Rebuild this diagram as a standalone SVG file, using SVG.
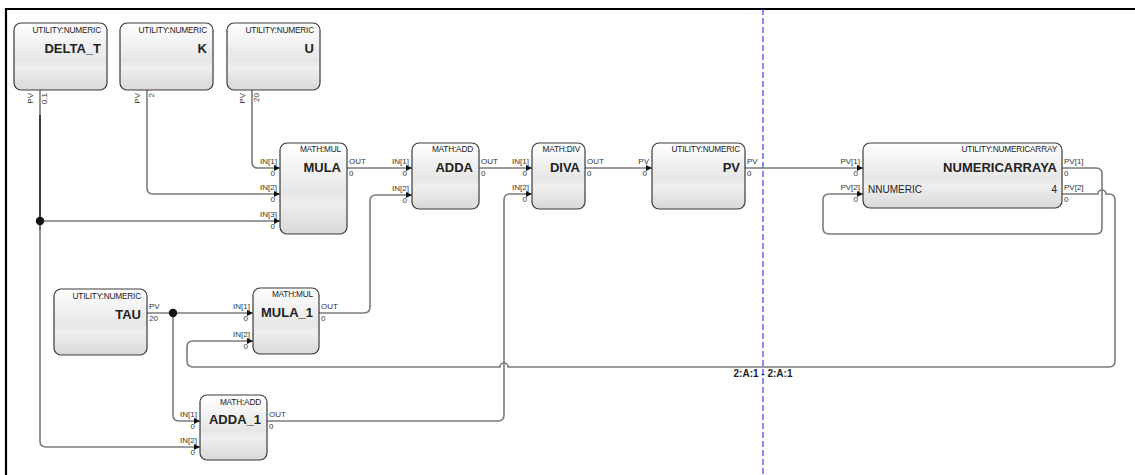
<svg xmlns="http://www.w3.org/2000/svg" width="1135" height="475" viewBox="0 0 1135 475">
<style>
text{font-family:"Liberation Sans",Arial,sans-serif;fill:#222}
.box{fill:url(#g);stroke:#3a3a3a;stroke-width:1.2}
.ttl{font-size:8.3px;text-anchor:end;letter-spacing:-0.2px}
.nm{font-size:13px;font-weight:bold;text-anchor:end}
.pl{font-size:8px;fill:#333}
.pe{text-anchor:end}
.c{fill:none;stroke:#7b7b7b;stroke-width:1.6}
.ca{marker-end:url(#ar)}
.dk{fill:none;stroke:#2a2a2a;stroke-width:1.6}
.dot{fill:#111}
</style>
<defs>
<linearGradient id="g" x1="0" y1="0" x2="0" y2="1">
<stop offset="0" stop-color="#ffffff"/>
<stop offset="0.55" stop-color="#e6e6e6"/>
<stop offset="0.66" stop-color="#efefef"/>
<stop offset="1" stop-color="#d8d8d8"/>
</linearGradient>
<marker id="ar" markerUnits="userSpaceOnUse" markerWidth="7" markerHeight="7" refX="6" refY="3" orient="auto">
<path d="M0,0 L6,3 L0,6 z" fill="#111"/>
</marker>
</defs>
<rect width="1135" height="475" fill="#fff"/>
<path d="M5,9 H1135 M6,8 V475" stroke="#000" stroke-width="2.2" fill="none"/>
<path d="M763,9 V475" stroke="#3a3aff" stroke-width="1.2" stroke-dasharray="6,3" fill="none"/>

<g id="connectors">
<path class="c ca" d="M40,90 V221 H280"/>
<path class="dk" d="M40,115 V230"/>
<path class="c ca" d="M40,221 V441 Q40,447 46,447 H200"/>
<path class="c ca" d="M147,90 V188 Q147,194 153,194 H280"/>
<path class="c ca" d="M252,90 V162 Q252,168 258,168 H280"/>
<path class="c ca" d="M347,168 H412"/>
<path class="c ca" d="M479,168 H532"/>
<path class="c ca" d="M585,168 H652"/>
<path class="c ca" d="M745,168 H863"/>
<path class="c ca" d="M1062,168 H1096 Q1102,168 1102,174 V228 Q1102,234 1096,234 H829 Q823,234 823,228 V200 Q823,194 829,194 H863"/>
<path class="c ca" d="M1062,194 H1098 A4,4 0 0 1 1106,194 H1109 Q1115,194 1115,200 V361 Q1115,367 1109,367 H508 A4,4 0 0 0 500,367 H193 Q187,367 187,361 V347 Q187,341 193,341 H253"/>
<path class="c ca" d="M147,313 H253"/>
<path class="c ca" d="M173,313 V415 Q173,421 179,421 H200"/>
<path class="c ca" d="M319,313 H364 Q370,313 370,307 V201 Q370,195 376,195 H412"/>
<path class="c ca" d="M267,421 H498 Q504,421 504,415 V200 Q504,194 510,194 H532"/>
<circle class="dot" cx="40" cy="221" r="4.2"/>
<circle class="dot" cx="173" cy="313" r="4.2"/>
<text x="763" y="377" text-anchor="middle" style="font-size:10px;font-weight:bold">2:A:1 - 2:A:1</text>
</g>

<g id="DELTA_T">
<rect class="box" x="14" y="23" width="93" height="67" rx="7"/>
<text class="ttl" x="101" y="33">UTILITY:NUMERIC</text>
<text class="nm" x="101" y="53">DELTA_T</text>
<text class="pl pe" transform="translate(33,93) rotate(-90)">PV</text>
<text class="pl pe" transform="translate(47,93) rotate(-90)">0.1</text>
</g>
<g id="K">
<rect class="box" x="120" y="23" width="93" height="67" rx="7"/>
<text class="ttl" x="207" y="33">UTILITY:NUMERIC</text>
<text class="nm" x="207" y="53">K</text>
<text class="pl pe" transform="translate(140,93) rotate(-90)">PV</text>
<text class="pl pe" transform="translate(154,93) rotate(-90)">2</text>
</g>
<g id="U">
<rect class="box" x="227" y="23" width="93" height="67" rx="7"/>
<text class="ttl" x="314" y="33">UTILITY:NUMERIC</text>
<text class="nm" x="314" y="53">U</text>
<text class="pl pe" transform="translate(245,93) rotate(-90)">PV</text>
<text class="pl pe" transform="translate(259,93) rotate(-90)">20</text>
</g>
<g id="MULA">
<rect class="box" x="280" y="143" width="67" height="91" rx="7"/>
<text class="ttl" x="341" y="152">MATH:MUL</text>
<text class="nm" x="341" y="172">MULA</text>
<text class="pl pe" x="277" y="164">IN[1]</text><text class="pl pe" x="275" y="176">0</text>
<text class="pl pe" x="277" y="190">IN[2]</text><text class="pl pe" x="275" y="202">0</text>
<text class="pl pe" x="277" y="217">IN[3]</text><text class="pl pe" x="275" y="229">0</text>
<text class="pl" x="349" y="164">OUT</text><text class="pl" x="349" y="176">0</text>
</g>
<g id="ADDA">
<rect class="box" x="412" y="143" width="67" height="66" rx="7"/>
<text class="ttl" x="473" y="152">MATH:ADD</text>
<text class="nm" x="473" y="172">ADDA</text>
<text class="pl pe" x="409" y="164">IN[1]</text><text class="pl pe" x="407" y="176">0</text>
<text class="pl pe" x="409" y="191">IN[2]</text><text class="pl pe" x="407" y="203">0</text>
<text class="pl" x="481" y="164">OUT</text><text class="pl" x="481" y="176">0</text>
</g>
<g id="DIVA">
<rect class="box" x="532" y="143" width="53" height="66" rx="7"/>
<text class="ttl" x="580" y="152">MATH:DIV</text>
<text class="nm" x="580" y="172">DIVA</text>
<text class="pl pe" x="529" y="164">IN[1]</text><text class="pl pe" x="527" y="176">0</text>
<text class="pl pe" x="529" y="190">IN[2]</text><text class="pl pe" x="527" y="202">0</text>
<text class="pl" x="587" y="164">OUT</text><text class="pl" x="587" y="176">0</text>
</g>
<g id="PV">
<rect class="box" x="652" y="143" width="93" height="66" rx="7"/>
<text class="ttl" x="740" y="152">UTILITY:NUMERIC</text>
<text class="nm" x="740" y="172">PV</text>
<text class="pl pe" x="649" y="164">PV</text><text class="pl pe" x="647" y="176">0</text>
<text class="pl" x="747" y="164">PV</text><text class="pl" x="747" y="176">0</text>
</g>
<g id="NUMERICARRAYA">
<rect class="box" x="863" y="143" width="199" height="65" rx="7"/>
<text class="ttl" x="1057" y="152">UTILITY:NUMERICARRAY</text>
<text class="nm" x="1057" y="172">NUMERICARRAYA</text>
<text x="868" y="193" style="font-size:10px">NNUMERIC</text>
<text x="1057" y="193" text-anchor="end" style="font-size:10px">4</text>
<text class="pl pe" x="860" y="164">PV[1]</text><text class="pl pe" x="858" y="176">0</text>
<text class="pl pe" x="860" y="190">PV[2]</text><text class="pl pe" x="858" y="202">0</text>
<text class="pl" x="1064" y="164">PV[1]</text><text class="pl" x="1064" y="176">0</text>
<text class="pl" x="1064" y="190">PV[2]</text><text class="pl" x="1064" y="202">0</text>
</g>
<g id="TAU">
<rect class="box" x="54" y="289" width="93" height="66" rx="7"/>
<text class="ttl" x="141" y="299">UTILITY:NUMERIC</text>
<text class="nm" x="141" y="319">TAU</text>
<text class="pl" x="149" y="309">PV</text><text class="pl" x="149" y="321">20</text>
</g>
<g id="MULA_1">
<rect class="box" x="253" y="288" width="66" height="66" rx="7"/>
<text class="ttl" x="313" y="297">MATH:MUL</text>
<text class="nm" x="313" y="317">MULA_1</text>
<text class="pl pe" x="250" y="309">IN[1]</text><text class="pl pe" x="248" y="321">0</text>
<text class="pl pe" x="250" y="337">IN[2]</text><text class="pl pe" x="248" y="349">0</text>
<text class="pl" x="321" y="309">OUT</text><text class="pl" x="321" y="321">0</text>
</g>
<g id="ADDA_1">
<rect class="box" x="200" y="395" width="67" height="65" rx="7"/>
<text class="ttl" x="261" y="405">MATH:ADD</text>
<text class="nm" x="261" y="424">ADDA_1</text>
<text class="pl pe" x="197" y="417">IN[1]</text><text class="pl pe" x="195" y="429">0</text>
<text class="pl pe" x="197" y="443">IN[2]</text><text class="pl pe" x="195" y="455">0</text>
<text class="pl" x="269" y="417">OUT</text><text class="pl" x="269" y="429">0</text>
</g>
</svg>
